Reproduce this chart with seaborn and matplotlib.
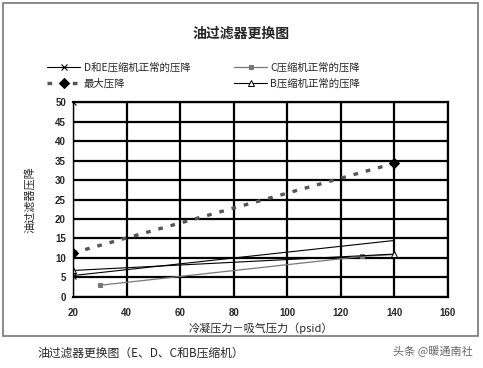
import matplotlib
matplotlib.use("Agg")
import matplotlib.pyplot as plt
import seaborn as sns
import pandas as pd
from matplotlib.patches import Rectangle

# series
de_x = [20, 140, 140]
de_y = [5.5, 14.5, 11.2]
max_x = [20, 140]
max_y = [11.3, 34.3]
c_x = [30, 128, 140]
c_y = [3.0, 10.4, 10.9]
b_x = [20, 140]
b_y = [6.8, 11.0]

x_ticks = [20, 40, 60, 80, 100, 120, 140, 160]
y_ticks = [0, 5, 10, 15, 20, 25, 30, 35, 40, 45, 50]

sns.set_style("white")
plt.rcParams['font.family'] = ['Noto Sans CJK SC', 'DejaVu Sans']

fig = plt.figure(figsize=(4.83, 3.68), dpi=100)
ax = fig.add_axes([0.151, 0.193, 0.7765, 0.5297])

de = pd.DataFrame({"x": de_x, "y": de_y})
mx = pd.DataFrame({"x": max_x, "y": max_y})
cc = pd.DataFrame({"x": c_x, "y": c_y})
bb = pd.DataFrame({"x": b_x, "y": b_y})

sns.lineplot(data=de, x="x", y="y", ax=ax, color="black", lw=0.8, sort=False,
             estimator=None, marker="x", markersize=4, mew=0.8, markevery=[0],
             markeredgecolor="black", label="D和E压缩机正常的压降")
sns.lineplot(data=mx, x="x", y="y", ax=ax, color="#555555", lw=2.4,
             estimator=None, linestyle=(0, (1.4, 2.4)), marker="D", markersize=5,
             markerfacecolor="black", markeredgecolor="black", label="最大压降")
sns.lineplot(data=cc, x="x", y="y", ax=ax, color="#777777", lw=0.9,
             estimator=None, marker="s", markersize=3.5, markerfacecolor="#777777",
             markeredgecolor="#777777", markevery=[0, 1], label="C压缩机正常的压降")
sns.lineplot(data=bb, x="x", y="y", ax=ax, color="black", lw=0.8,
             estimator=None, marker="^", markersize=4, markerfacecolor="white",
             markeredgecolor="black", mew=0.7, label="B压缩机正常的压降")
# stray marker at top of the axis
ax.plot([20], [50], marker="x", color="black", markersize=4, mew=0.8, ls="none")

ax.set_xlim(20, 160)
ax.set_ylim(0, 50)
ax.set_xticks(x_ticks)
ax.set_yticks(y_ticks)
ax.grid(True, color="black", lw=1.6)
ax.set_axisbelow(True)
for s in ax.spines.values():
    s.set_color("black")
    s.set_linewidth(1.6)
ax.spines["left"].set_linewidth(1.0)
ax.tick_params(length=0, pad=8)
for lab in ax.get_xticklabels() + ax.get_yticklabels():
    lab.set_family(["Liberation Sans", "DejaVu Sans"])
    lab.set_fontweight("bold")
    lab.set_fontsize(7)
ax.tick_params(axis="y", pad=5)

ax.set_xlabel("冷凝压力－吸气压力（psid）", fontsize=8, labelpad=3)
ax.set_ylabel("油过滤器压降", fontsize=8, labelpad=14)

leg = ax.legend(ncol=2, loc="lower left", bbox_to_anchor=(-0.08, 1.045),
                frameon=False, fontsize=7.5, handlelength=3.2,
                columnspacing=4.2, handletextpad=0.3, labelspacing=0.6,
                borderaxespad=0)

fig.text(0.5, 0.91, "油过滤器更换图", ha="center", va="center",
         fontsize=10, fontweight="bold")

fig.patches.append(Rectangle((3 / 483, 1 - 336 / 368), 475 / 483, 333 / 368,
                             transform=fig.transFigure, fill=False,
                             edgecolor="#777777", lw=1.2))
fig.text(37 / 483, 1 - 353 / 368, "油过滤器更换图（E、D、C和B压缩机）",
         ha="left", va="center", fontsize=8.5)
fig.text(473 / 483, 1 - 351 / 368, "头条 @暖通南社", ha="right", va="center",
         fontsize=8, color="#666666")

fig.savefig("out.png", dpi=100)
